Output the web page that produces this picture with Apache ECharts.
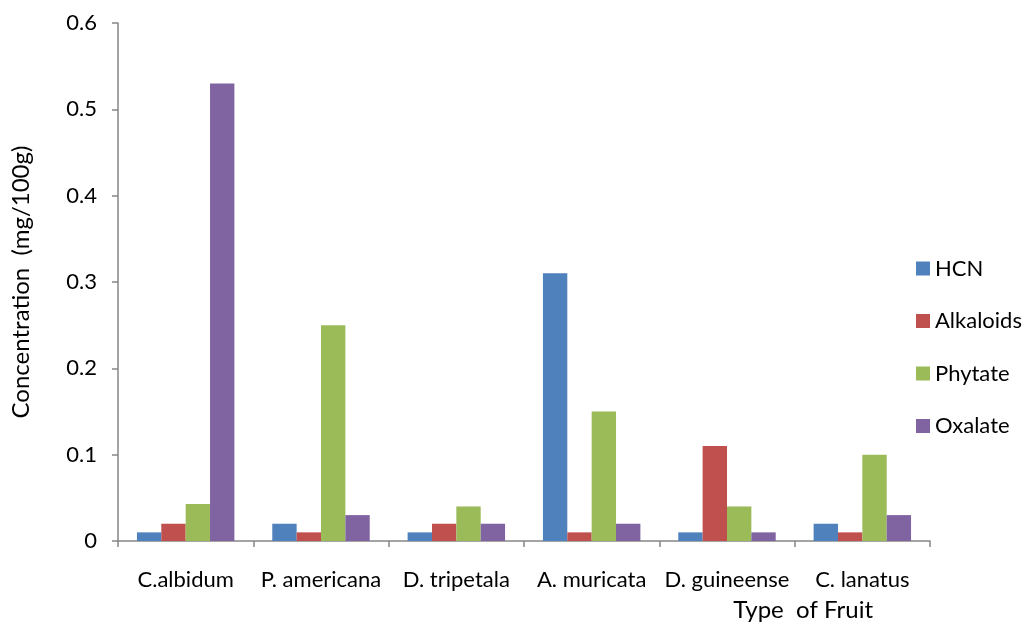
<!DOCTYPE html>
<html>
<head>
<meta charset="utf-8">
<script src="https://cdn.jsdelivr.net/npm/echarts@6/dist/echarts.min.js"></script>
<style>
  html, body { margin: 0; padding: 0; background: #fff; }
  #chart { width: 1028px; height: 626px; }
</style>
</head>
<body>
<div id="chart"></div>
<script>
// Anti-nutrient concentration by fruit
const fruits = ['C.albidum', 'P. americana', 'D. tripetala', 'A. muricata', 'D. guineense', 'C. lanatus'];
const hcn       = [0.01, 0.02, 0.01, 0.31, 0.01, 0.02];
const alkaloids = [0.02, 0.01, 0.02, 0.01, 0.11, 0.01];
const phytate   = [0.043, 0.25, 0.04, 0.15, 0.04, 0.10];
const oxalate   = [0.53, 0.03, 0.02, 0.02, 0.01, 0.03];

const FONT = 'Lato, "Open Sans", sans-serif';
const axisGray = '#868686';

const chart = echarts.init(document.getElementById('chart'));

function bar(name, data, color) {
  return {
    name, type: 'bar', data,
    barGap: '0%', barCategoryGap: '28%',
    itemStyle: { color },
    emphasis: { disabled: true }
  };
}

chart.setOption({
  animation: false,
  textStyle: { fontFamily: FONT },
  grid: { left: 118, right: 98, top: 23, bottom: 85 },
  legend: {
    orient: 'vertical',
    left: 916, top: 257,
    padding: 0,
    itemWidth: 14, itemHeight: 14, itemGap: 29.5,
    icon: 'rect',
    textStyle: { fontSize: 22, color: '#000', fontFamily: FONT, lineHeight: 23 },
    data: ['HCN', 'Alkaloids', 'Phytate', 'Oxalate']
  },
  xAxis: {
    type: 'category',
    data: fruits,
    name: 'Type  of Fruit',
    nameLocation: 'end',
    nameGap: 0,
    nameTextStyle: { fontSize: 24, color: '#000', align: 'right', verticalAlign: 'top', padding: [57, 57, 0, 0] },
    axisLine: { lineStyle: { color: axisGray, width: 1.5 } },
    axisTick: { show: true, length: 6, alignWithLabel: false, lineStyle: { color: axisGray, width: 1.5 } },
    axisLabel: { fontSize: 22, color: '#000', margin: 28, interval: 0, hideOverlap: false }
  },
  yAxis: {
    type: 'value',
    min: 0, max: 0.6, interval: 0.1,
    name: 'Concentration  (mg/100g)',
    nameLocation: 'middle',
    nameGap: 85,
    nameTextStyle: { fontSize: 24, color: '#000' },
    axisLine: { show: true, lineStyle: { color: axisGray, width: 1.5 } },
    axisTick: { show: true, length: 6, inside: false, lineStyle: { color: axisGray, width: 1.5 } },
    splitLine: { show: false },
    axisLabel: {
      fontSize: 22, color: '#000', margin: 21,
      formatter: v => (v === 0 ? '0' : v.toFixed(1))
    }
  },
  series: [
    bar('HCN', hcn, '#4f81bd'),
    bar('Alkaloids', alkaloids, '#c0504d'),
    bar('Phytate', phytate, '#9bbb59'),
    bar('Oxalate', oxalate, '#8064a2')
  ]
});
</script>
</body>
</html>
